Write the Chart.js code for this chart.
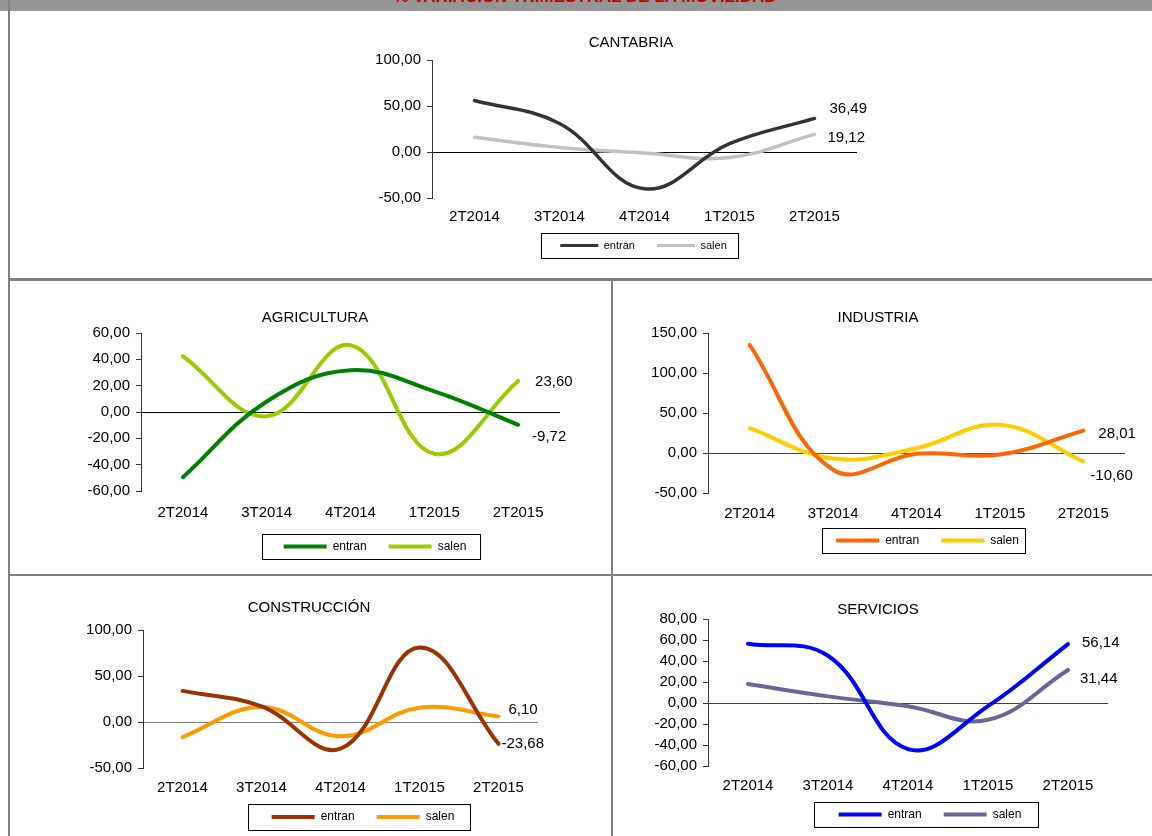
<!DOCTYPE html>
<html lang="es">
<head>
<meta charset="utf-8">
<title>% Variación trimestral de la movilidad</title>
<script src="https://cdn.jsdelivr.net/npm/chart.js@4.4.1/dist/chart.umd.min.js"></script>
<style>
html,body{margin:0;padding:0;background:#fff;}
body{width:1152px;height:836px;position:relative;overflow:hidden;font-family:'Liberation Sans',Arial,sans-serif;}
.banda{position:absolute;left:0;top:0;width:1152px;height:11px;background:#969696;}
.titulo{position:absolute;left:0;top:-12px;width:1170px;text-align:center;font:bold 17px/17px 'Liberation Sans',Arial,sans-serif;color:#c00000;}
.ln{position:absolute;background:#808080;}
canvas{position:absolute;}
</style>
</head>
<body>
<div class="banda"></div>
<div class="titulo">% VARIACIÓN TRIMESTRAL DE LA MOVILIDAD</div>
<div class="ln" style="left:8px;top:0;width:2px;height:836px"></div>
<div class="ln" style="left:8px;top:278px;width:1144px;height:3px"></div>
<div class="ln" style="left:611px;top:278px;width:2px;height:558px"></div>
<div class="ln" style="left:8px;top:574px;width:1144px;height:2px"></div>

<canvas id="cantabria"></canvas>
<canvas id="agricultura"></canvas>
<canvas id="industria"></canvas>
<canvas id="construccion"></canvas>
<canvas id="servicios"></canvas>

<script>
/* ===== datos ===== */
const trimestres = ['2T2014','3T2014','4T2014','1T2015','2T2015'];

const cantabriaEntran    = [56, 31, -40, 9, 36.49];
const cantabriaSalen     = [16, 5, -1, -6, 19.12];
const agriculturaEntran  = [-49.5, 8, 31.7, 15.7, -9.72];
const agriculturaSalen   = [42.5, -3.3, 50.8, -31.7, 23.60];
const industriaEntran    = [135, -21, -1, -2, 28.01];
const industriaSalen     = [31, -7, 6, 35.4, -10.60];
const construccionEntran = [33.8, 17, -29, 81, -23.68];
const construccionSalen  = [-16.4, 16.4, -15.6, 15.6, 6.10];
const serviciosEntran    = [56.5, 45, -44, -3, 56.14];
const serviciosSalen     = [18, 6.3, -3, -16, 31.44];

// [min, max, paso] del eje Y
const escalaCantabria    = [-50, 100, 50];
const escalaAgricultura  = [-60, 60, 20];
const escalaIndustria    = [-50, 150, 50];
const escalaConstruccion = [-50, 100, 50];
const escalaServicios    = [-60, 80, 20];

/* ===== estilo ===== */
const FONT = "'Liberation Sans', Arial, sans-serif";
const fmt = v => Number(v).toFixed(2).replace('.', ',');

// posiciones en la página (área de trazado, título, caja de leyenda)
const paneles = [
  {id:'cantabria', titulo:'CANTABRIA', entran:cantabriaEntran, salen:cantabriaSalen, escala:escalaCantabria,
   colores:['#333333','#c0c0c0'], L:432, R:857, T:60, B:198, tituloX:631, tituloY:43, xPad:10,
   caja:[541,233,738,258], fLey:11, grosor:3.5, cero:'#000000', etiq:[[15,-10],[13,3]]},
  {id:'agricultura', titulo:'AGRICULTURA', entran:agriculturaEntran, salen:agriculturaSalen, escala:escalaAgricultura,
   colores:['#008000','#99cc00'], L:141, R:560, T:333, B:491, tituloX:315, tituloY:318, xPad:13,
   caja:[262,534,480,559], fLey:12, grosor:4, cero:'#000000', etiq:[[14,12],[17,1]]},
  {id:'industria', titulo:'INDUSTRIA', entran:industriaEntran, salen:industriaSalen, escala:escalaIndustria,
   colores:['#ff6600','#ffcc00'], L:708, R:1125, T:333, B:493, tituloX:878, tituloY:318, xPad:12,
   caja:[822,528,1025,553], fLey:12, grosor:4, cero:'#404040', etiq:[[15,3],[7,14]]},
  {id:'construccion', titulo:'CONSTRUCCIÓN', entran:construccionEntran, salen:construccionSalen, escala:escalaConstruccion,
   colores:['#993300','#ff9900'], L:143, R:538, T:630, B:768, tituloX:309, tituloY:608, xPad:11,
   caja:[248,804,470,830], fLey:12, grosor:4, cero:'#808080', etiq:[[3,0],[10,-7]]},
  {id:'servicios', titulo:'SERVICIOS', entran:serviciosEntran, salen:serviciosSalen, escala:escalaServicios,
   colores:['#0000ff','#666699'], L:708, R:1108, T:619, B:766, tituloX:878, tituloY:610, xPad:11,
   caja:[814,802,1038,827], fLey:12, grosor:4, cero:'#404040', etiq:[[14,-1],[12,9]]}
];

/* ===== plugin: título y leyenda en su sitio, caja de leyenda, etiquetas del último punto ===== */
function extras(p, cx, cy){
  return {
    id:'extras_'+p.id,
    afterLayout(chart){
      const tb = chart.titleBlock;
      const tw = tb.right - tb.left;
      tb.left = p.tituloX - cx - tw/2; tb.right = tb.left + tw;

      const lg = chart.legend;
      const pad = lg.options.labels.padding;
      const mx = (p.caja[0]+p.caja[2])/2 - cx + 4;
      const my = (p.caja[1]+p.caja[3])/2 - cy;
      const w = lg.right - lg.left, h = lg.bottom - lg.top;
      lg.left = mx - w/2; lg.right = mx + w/2;
      lg.top = my - pad - p.fLey/2; lg.bottom = lg.top + h;
    },
    afterDatasetsDraw(chart){
      const ctx = chart.ctx;
      ctx.save();
      ctx.font = '15px ' + FONT;
      ctx.fillStyle = '#000';
      ctx.textAlign = 'left';
      ctx.textBaseline = 'middle';
      chart.data.datasets.forEach((ds, i) => {
        const meta = chart.getDatasetMeta(i);
        const n = meta.data.length - 1;
        const pt = meta.data[n];
        ctx.fillText(fmt(ds.data[n]), pt.x + p.etiq[i][0], pt.y + p.etiq[i][1]);
      });
      ctx.restore();
    },
    afterDraw(chart){
      const ctx = chart.ctx;
      ctx.save();
      ctx.strokeStyle = '#000';
      ctx.lineWidth = 1;
      ctx.strokeRect(p.caja[0]-cx+0.5, p.caja[1]-cy+0.5, p.caja[2]-p.caja[0], p.caja[3]-p.caja[1]);
      ctx.restore();
    }
  };
}

function dibujar(p){
  const canvas = document.getElementById(p.id);
  const wy = 75;
  const cx = p.L - 80, cy = p.tituloY - 11;
  const padL = p.L - cx - wy;
  const padR = 65;
  const cw = p.R + padR - cx;
  const legPad = 22;
  const legH = p.fLey + legPad + 10;
  const hx = 30;
  const ch = p.B - cy + hx + legH;
  canvas.width = cw; canvas.height = ch;
  canvas.style.left = cx+'px'; canvas.style.top = cy+'px';
  canvas.style.width = cw+'px'; canvas.style.height = ch+'px';

  const serie = (label, data, color) => ({
    label, data, borderColor:color, backgroundColor:color, borderWidth:p.grosor,
    pointRadius:0, pointHoverRadius:0, tension:0.4, borderCapStyle:'round', fill:false
  });

  new Chart(canvas, {
    type:'line',
    data:{ labels:trimestres, datasets:[ serie('entran', p.entran, p.colores[0]), serie('salen', p.salen, p.colores[1]) ] },
    options:{
      responsive:false, animation:false, devicePixelRatio:1,
      layout:{ padding:{ left:padL, right:padR, top:2, bottom:0 } },
      plugins:{
        title:{ display:true, text:p.titulo, color:'#000', font:{ family:FONT, size:15, weight:'normal' },
                padding:{ top:0, bottom:p.T - p.tituloY - 9 } },
        legend:{ position:'bottom',
          labels:{ color:'#000', font:{ family:FONT, size:p.fLey }, boxWidth:p.fLey===11?38:43,
                   boxHeight:Math.floor(p.grosor), padding:legPad,
                   generateLabels:c => Chart.defaults.plugins.legend.labels.generateLabels(c).map(l => Object.assign(l, {lineWidth:0})) } },
        tooltip:{ enabled:false }
      },
      scales:{
        x:{ type:'category', offset:true,
            grid:{ display:false, drawTicks:false }, border:{ display:false },
            ticks:{ color:'#000', font:{ family:FONT, size:15 }, padding:p.xPad, maxRotation:0, autoSkip:false },
            afterFit:s => { s.height = hx; } },
        y:{ min:p.escala[0], max:p.escala[1],
            ticks:{ stepSize:p.escala[2], color:'#000', font:{ family:FONT, size:15 }, padding:6, callback:v => fmt(v) },
            grid:{ color:c => (c.tick && c.tick.value === 0) ? p.cero : 'rgba(0,0,0,0)', lineWidth:1,
                   tickColor:'#333', tickLength:5, drawTicks:true },
            border:{ display:true, color:'#333', width:1 },
            afterFit:s => { s.width = wy; } }
      }
    },
    plugins:[ extras(p, cx, cy) ]
  });
}

paneles.forEach(dibujar);
</script>
</body>
</html>
